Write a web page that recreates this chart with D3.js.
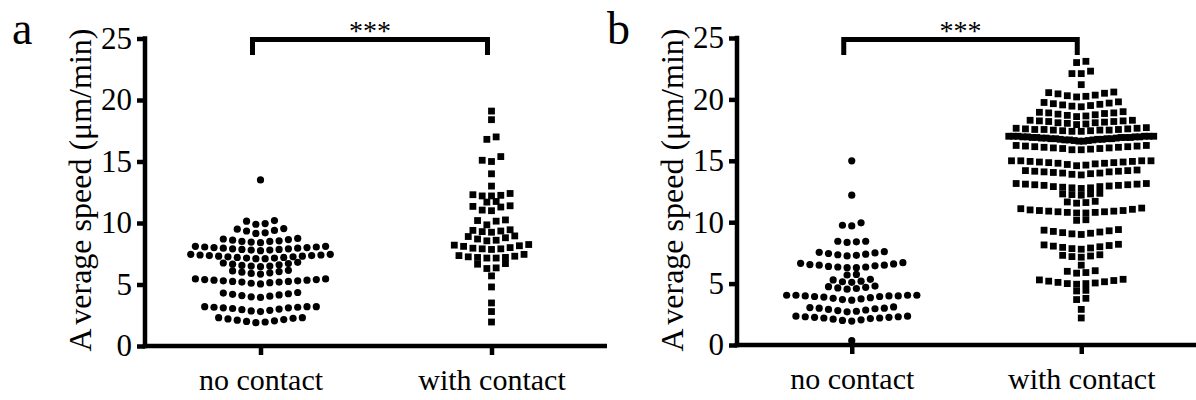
<!DOCTYPE html>
<html>
<head>
<meta charset="utf-8">
<script src="https://cdn.jsdelivr.net/npm/d3@7"></script>
<style>
	body { margin: 0; background: #fff; }
	svg text { font-family: 'Liberation Serif', 'Times New Roman', serif; fill: #000; }
</style>
</head>
<body>
<svg id="chart" width="1196" height="400"></svg>
<script>
// DATA (average speed, µm/min)
const categories = ['no contact', 'with contact']
const y_ticks = [0, 5, 10, 15, 20, 25]
const y_label = 'Average speed (μm/min)'
const significance = '***'

const a_no_contact = [
	1.9, 1.95, 2.0, 2.05, 2.1, 2.15, 2.2, 2.25, 2.3, 2.3,
	2.8, 2.85, 2.9, 2.95, 3.0, 3.05, 3.1, 3.1, 3.15, 3.15, 3.2, 3.2, 3.2,
	3.95, 4.0, 4.05, 4.1, 4.15, 4.2, 4.25, 4.3, 4.35,
	5.05, 5.1, 5.15, 5.2, 5.2, 5.25, 5.25, 5.3, 5.3, 5.35, 5.35, 5.4, 5.4, 5.45, 5.45,
	5.85, 5.9, 5.95, 6.0, 6.05, 6.1, 6.15,
	6.45, 6.5, 6.5, 6.55, 6.6, 6.65, 6.7, 6.75, 6.8,
	7.1, 7.1, 7.15, 7.15, 7.2, 7.2, 7.25, 7.25, 7.3, 7.3, 7.35, 7.35, 7.4, 7.4, 7.45, 7.45,
	7.75, 7.8, 7.8, 7.85, 7.85, 7.9, 7.9, 7.95, 7.95, 8.0, 8.0, 8.05, 8.05, 8.1, 8.1,
	8.4, 8.45, 8.5, 8.5, 8.55, 8.6, 8.65, 8.7, 8.75,
	9.15, 9.2, 9.35, 9.4, 9.5, 9.55,
	9.9, 9.95, 10.15, 10.2,
	13.5
]
const a_with_contact = [
	1.95, 2.8, 3.5, 4.8, 5.7,
	6.3, 6.35, 6.65, 6.7,
	7.15, 7.15, 7.2, 7.2, 7.25, 7.3, 7.35, 7.45,
	7.85, 7.9, 7.9, 7.95, 8.0, 8.1, 8.15, 8.2, 8.25,
	8.55, 8.6, 8.7, 8.8, 8.9, 8.95,
	9.25, 9.3, 9.35, 9.4, 9.45,
	9.85, 10.15, 10.2, 10.25,
	11.0, 11.05, 11.3, 11.35, 11.4,
	11.7, 11.75,
	12.2, 12.2, 12.25, 12.3, 12.4,
	13.0, 14.0,
	15.0, 15.1, 15.4,
	16.8, 17.0,
	18.4, 19.1
]
const b_no_contact = [
	0.35,
	1.95, 2.0, 2.05, 2.1, 2.15, 2.2, 2.2, 2.25, 2.25, 2.3, 2.3, 2.35, 2.35,
	2.7, 2.75, 2.8, 2.85, 2.9, 2.95, 3.0, 3.0, 3.05, 3.1,
	3.65, 3.7, 3.75, 3.8, 3.85, 3.9, 3.95, 3.95, 4.0, 4.0, 4.0, 4.05, 4.05, 4.05, 4.05,
	4.55, 4.6, 4.65, 4.7, 4.75, 4.8,
	5.1, 5.15, 5.2, 5.3, 5.35,
	5.7, 5.75,
	6.3, 6.3, 6.35, 6.35, 6.4, 6.45, 6.5, 6.5, 6.55, 6.6, 6.65, 6.7,
	7.25, 7.3, 7.35, 7.4, 7.45, 7.5, 7.55, 7.6,
	8.35, 8.4, 8.45, 8.45,
	9.7, 9.75, 9.95,
	12.2, 15.0
]
const b_with_contact = [
	2.2, 2.9,
	3.7, 3.8,
	4.4, 4.45,
	4.95, 5.0, 5.0, 5.05, 5.1, 5.15, 5.2, 5.25, 5.3, 5.35,
	5.85, 5.9, 6.0, 6.05,
	6.5,
	7.15, 7.2, 7.25, 7.3, 7.35,
	7.8, 7.85, 7.9, 7.95, 8.0, 8.05, 8.1, 8.15, 8.2,
	9.0, 9.05, 9.1, 9.15, 9.2, 9.25, 9.3, 9.35, 9.4,
	10.15, 10.2,
	10.75, 10.75, 10.8, 10.8, 10.85, 10.85, 10.9, 10.9, 10.95, 10.95, 11.0, 11.05, 11.1, 11.15,
	11.55, 11.6, 11.65, 11.7,
	12.2, 12.25, 12.3, 12.3, 12.35,
	12.75, 12.8, 12.8, 12.85, 12.9, 12.9, 12.95, 13.0, 13.0, 13.05, 13.05, 13.1, 13.1, 13.15, 13.15,
	13.85, 13.9, 13.95, 14.0, 14.0, 14.05, 14.1, 14.1, 14.15, 14.15, 14.2, 14.2, 14.25,
	14.6, 14.65, 14.7, 14.75, 14.8, 14.8, 14.85, 14.85, 14.9, 14.9, 14.95, 14.95, 15.0, 15.0, 15.0, 15.0,
	15.9, 15.9, 15.95, 16.0, 16.0, 16.05, 16.05, 16.1, 16.1, 16.15, 16.15, 16.2, 16.2, 16.25, 16.25,
	16.6, 16.6, 16.65, 16.65, 16.7, 16.7, 16.7, 16.75, 16.75, 16.75, 16.8, 16.8, 16.8, 16.8, 16.85, 16.85,
	16.85, 16.9, 16.9, 16.9, 16.9, 16.9, 16.95, 16.95, 16.95, 16.95, 17.0, 17.0, 17.0, 17.0, 17.0, 17.0,
	17.4, 17.4, 17.45, 17.45, 17.5, 17.5, 17.5, 17.55, 17.55, 17.55, 17.6, 17.6, 17.65, 17.65, 17.7,
	17.95, 18.0, 18.05, 18.1, 18.1, 18.15, 18.2, 18.2, 18.25, 18.25, 18.3, 18.3,
	18.6, 18.65, 18.7, 18.75, 18.8, 18.85, 18.9, 18.9, 18.95, 19.0,
	19.4, 19.45, 19.5, 19.55, 19.6, 19.65, 19.7, 19.75, 19.8,
	20.2, 20.25, 20.3, 20.35, 20.45, 20.5, 20.55, 20.6,
	21.2,
	22.1, 22.1, 22.3,
	23.0, 23.1
]

// LAYOUT
const panels = [
	{ letter: 'a', letter_x: 12, left: 145, right: 607, bottom: 346, top: 38.5, groups: [a_no_contact, a_with_contact] },
	{ letter: 'b', letter_x: 607, left: 737, right: 1196, bottom: 345, top: 38, groups: [b_no_contact, b_with_contact] }
]
const row_tol = 0.45 // values closer than this share a row
const spacing = 9.3
const max_span = 145
const dot_r = 3.6
const square = 6.8
const stroke = 4.5

// GRAPHPAD-LIKE COLUMN SCATTER: BIN INTO ROWS, SPREAD EACH ROW FROM THE CENTER
function scatterRows (values) {
	const sorted = values.slice().sort((a, b) => a - b)
	const rows = []
	sorted.forEach(v => {
		const row = rows[rows.length - 1]
		if (row && v - row[0] <= row_tol + 1e-9) row.push(v)
		else rows.push([v])
	})
	return rows.map(row => {
		const n = row.length
		const c = (n - 1) / 2
		const step = n > 1 ? Math.min(spacing, max_span / (n - 1)) : 0
		const slots = d3.range(n).sort((a, b) => Math.abs(a - c) - Math.abs(b - c) || a - b)
		return row.map((v, i) => ({ v, dx: (slots[i] - c) * step }))
	}).flat()
}

const svg = d3.select('svg#chart')

panels.forEach(p => {
	const g = svg.append('g')
	const x = d3.scalePoint().domain(categories).range([p.left, p.right]).padding(0.5)
	const y = d3.scaleLinear().domain([0, 25]).range([p.bottom, p.top])

	// Y AXIS
	const ya = g.append('g')
	.attr('transform', `translate(${p.left},0)`)
	.call(d3.axisLeft(y).tickValues(y_ticks).tickSize(8).tickSizeOuter(0).tickPadding(5))
	// X AXIS
	const xa = g.append('g')
	.attr('transform', `translate(0,${p.bottom})`)
	.call(d3.axisBottom(x).tickSize(9).tickSizeOuter(0).tickPadding(12))

	g.selectAll('.domain, .tick line').attr('stroke', '#000').attr('stroke-width', stroke)
	ya.selectAll('.tick text').style('font-size', '31px')
	xa.selectAll('.tick text').style('font-size', '30px').attr('dy', '0.76em')
	ya.select('.domain').attr('d', `M0,${p.bottom + stroke / 2}V${p.top - stroke / 2}`)
	xa.select('.domain').attr('d', `M${p.left - stroke / 2},0H${p.right}`)

	// Y LABEL
	const yl = g.append('text')
	.attr('transform', `translate(${p.left - 54},190) rotate(-90)`)
	.attr('text-anchor', 'middle')
	.style('font-size', '32px')
	yl.append('tspan').text(y_label.slice(0, 1))
	yl.append('tspan').attr('dx', 6).text(y_label.slice(1))

	// PANEL LETTER
	g.append('text')
	.attr('x', p.letter_x)
	.attr('y', 44)
	.style('font-size', '46px')
	.text(p.letter)

	// POINTS
	const [ no_contact, with_contact ] = p.groups
	g.append('g').selectAll('circle')
	.data(scatterRows(no_contact))
	.join('circle')
	.attr('cx', d => x(categories[0]) + d.dx)
	.attr('cy', d => y(d.v))
	.attr('r', dot_r)
	.attr('fill', '#000')

	g.append('g').selectAll('rect')
	.data(scatterRows(with_contact))
	.join('rect')
	.attr('x', d => x(categories[1]) + d.dx - square / 2)
	.attr('y', d => y(d.v) - square / 2)
	.attr('width', square)
	.attr('height', square)
	.attr('fill', '#000')

	// SIGNIFICANCE BRACKET
	const x1 = x(categories[0]) - 8
	const x2 = x(categories[1]) - 4
	const top = 39.5
	g.append('path')
	.attr('d', `M${x1},55V${top}H${x2}V55`)
	.attr('fill', 'none')
	.attr('stroke', '#000')
	.attr('stroke-width', 5)
	g.append('text')
	.attr('x', (x1 + x2) / 2)
	.attr('y', 40)
	.attr('text-anchor', 'middle')
	.style('font-size', '28px')
	.text(significance)
})
</script>
</body>
</html>
